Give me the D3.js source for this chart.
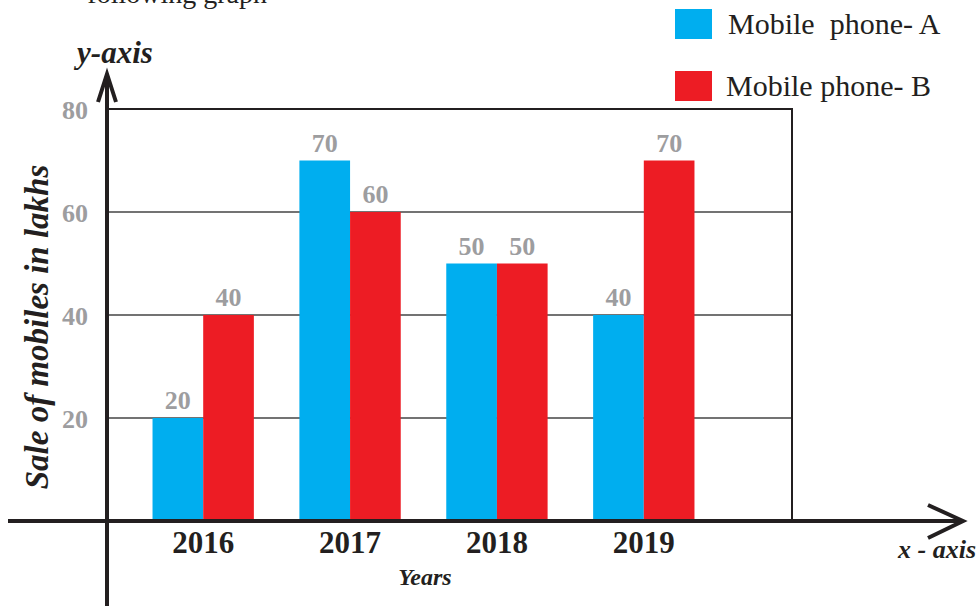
<!DOCTYPE html>
<html>
<head>
<meta charset="utf-8">
<script src="https://cdn.jsdelivr.net/npm/d3@7"></script>
<style>
  html, body { margin: 0; padding: 0; background: #fff; }
  svg { display: block; font-family: "Liberation Serif", "Times New Roman", serif; }
</style>
</head>
<body>
<svg id="chart" width="980" height="606"></svg>
<script>
// Sales of two mobile phone models per year (in lakhs)
const years = ["2016", "2017", "2018", "2019"];
const seriesNames = ["Mobile phone- A", "Mobile phone- B"];
const phoneA = [20, 70, 50, 40];
const phoneB = [40, 60, 50, 70];
const yTicks = [20, 40, 60, 80];

const colors = ["#00aeef", "#ed1c24"];
const ink = "#231f20";
const grey = "#9d9d9f";

const svg = d3.select("#chart");

const x0 = 107, xRight = 792, yBase = 521, yTop = 109;

const y = d3.scaleLinear().domain([0, 80]).range([yBase, yTop]);
const x = d3.scaleBand().domain(years).range([x0, 740]).paddingInner(0.31).paddingOuter(0.31);
const xs = d3.scaleBand().domain([0, 1]).range([0, x.bandwidth()]);

// heading line running off the top edge
svg.append("text")
  .attr("x", 267).attr("y", 3)
  .attr("text-anchor", "end")
  .attr("font-size", 28)
  .attr("fill", ink)
  .text("following graph");

// horizontal grid lines
svg.append("g").selectAll("line")
  .data(yTicks.filter(d => d < 80))
  .join("line")
  .attr("x1", x0).attr("x2", xRight)
  .attr("y1", d => y(d)).attr("y2", d => y(d))
  .attr("stroke", "#444").attr("stroke-width", 1.3);

// bars
const rows = years.map((yr, i) => ({ year: yr, values: [phoneA[i], phoneB[i]] }));
const groups = svg.append("g").selectAll("g")
  .data(rows).join("g")
  .attr("transform", d => `translate(${x(d.year)},0)`);

groups.selectAll("rect")
  .data(d => d.values.map((v, k) => ({ v, k })))
  .join("rect")
  .attr("x", d => xs(d.k))
  .attr("width", xs.bandwidth())
  .attr("y", d => y(d.v))
  .attr("height", d => y(0) - y(d.v))
  .attr("fill", d => colors[d.k]);

groups.selectAll("text")
  .data(d => d.values.map((v, k) => ({ v, k })))
  .join("text")
  .attr("x", d => xs(d.k) + xs.bandwidth() / 2)
  .attr("y", d => y(d.v) - 9)
  .attr("text-anchor", "middle")
  .attr("font-size", 26)
  .attr("font-weight", "bold")
  .attr("fill", grey)
  .text(d => d.v);

// frame: top and right edges
svg.append("path")
  .attr("d", `M${x0},${y(80)}H${xRight}V${yBase}`)
  .attr("fill", "none").attr("stroke", ink).attr("stroke-width", 2);

// y axis tick labels
const yAxis = d3.axisLeft(y).tickValues(yTicks).tickSize(0).tickPadding(19);
const gy = svg.append("g").attr("transform", `translate(${x0},0)`).call(yAxis);
gy.select(".domain").remove();
gy.selectAll("text")
  .attr("font-family", "Liberation Serif, serif")
  .attr("font-size", 26)
  .attr("font-weight", "bold")
  .attr("fill", grey)
  .attr("dy", "0.38em");

// x axis year labels
const xAxis = d3.axisBottom(x).tickSize(0).tickPadding(10);
const gx = svg.append("g").attr("transform", `translate(0,${yBase})`).call(xAxis);
gx.select(".domain").remove();
gx.selectAll("text")
  .attr("font-family", "Liberation Serif, serif")
  .attr("font-size", 31)
  .attr("font-weight", "bold")
  .attr("fill", ink);

// main axis lines with open arrowheads
svg.append("line")
  .attr("x1", x0).attr("x2", x0).attr("y1", 74).attr("y2", 606)
  .attr("stroke", ink).attr("stroke-width", 4);
svg.append("path")
  .attr("d", `M${x0 - 9},102L${x0},74L${x0 + 9},102`)
  .attr("fill", "none").attr("stroke", ink).attr("stroke-width", 4);

svg.append("line")
  .attr("x1", 8).attr("x2", 963).attr("y1", yBase).attr("y2", yBase)
  .attr("stroke", ink).attr("stroke-width", 4);
svg.append("path")
  .attr("d", `M928,505L963,${yBase}L928,538`)
  .attr("fill", "none").attr("stroke", ink).attr("stroke-width", 4);

// axis captions
svg.append("text")
  .attr("x", 115).attr("y", 63)
  .attr("text-anchor", "middle")
  .attr("font-size", 31).attr("font-weight", "bold").attr("font-style", "italic")
  .attr("fill", ink).text("y-axis");

svg.append("text")
  .attr("x", 976).attr("y", 558)
  .attr("text-anchor", "end")
  .attr("font-size", 26).attr("font-weight", "bold").attr("font-style", "italic")
  .attr("fill", ink).text("x - axis");

svg.append("text")
  .attr("x", 425).attr("y", 585)
  .attr("text-anchor", "middle")
  .attr("font-size", 24).attr("font-weight", "bold").attr("font-style", "italic")
  .attr("fill", ink).text("Years");

svg.append("text")
  .attr("transform", "translate(48,327) rotate(-90)")
  .attr("text-anchor", "middle")
  .attr("font-size", 33).attr("font-weight", "bold").attr("font-style", "italic")
  .attr("fill", ink).text("Sale of mobiles in lakhs");

// legend
const legend = svg.append("g").selectAll("g")
  .data(seriesNames).join("g")
  .attr("transform", (d, i) => `translate(675,${9 + i * 62})`);
legend.append("rect")
  .attr("width", 37).attr("height", 30)
  .attr("fill", (d, i) => colors[i]);
legend.append("text")
  .attr("x", (d, i) => i === 0 ? 53 : 51)
  .attr("y", 25)
  .attr("font-size", 30)
  .attr("fill", ink)
  .style("white-space", "pre")
  .text((d, i) => i === 0 ? d.replace("Mobile ", "Mobile  ") : d);
</script>
</body>
</html>
